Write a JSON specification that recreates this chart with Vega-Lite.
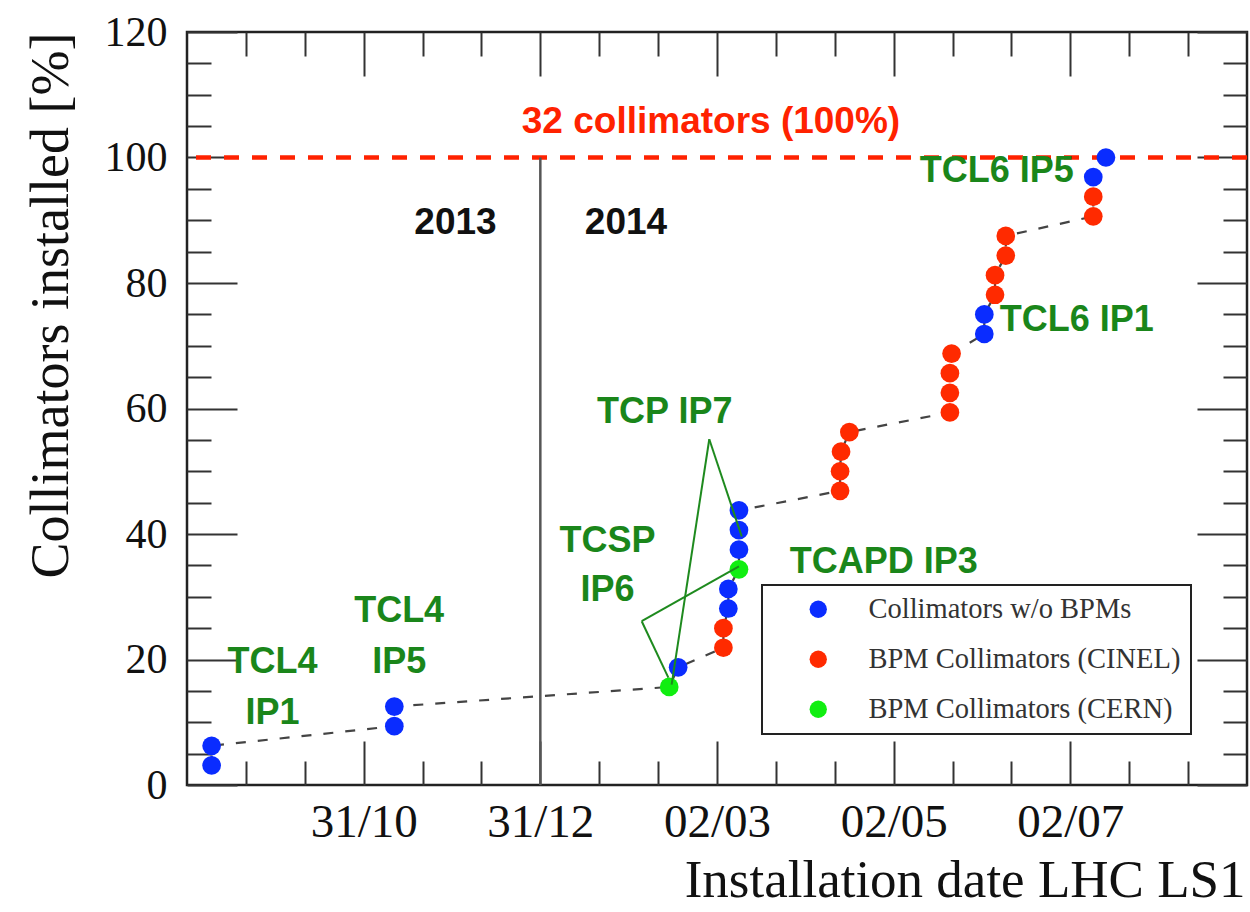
{
  "$schema": "https://vega.github.io/schema/vega-lite/v6.json",
  "width": 1060,
  "height": 753,
  "autosize": {"type": "none"},
  "padding": {"left": 187, "top": 32, "right": 3, "bottom": 127},
  "background": "white",
  "config": {
    "view": {"stroke": "#222", "strokeWidth": 2.5},
    "axis": {
      "grid": false, "domain": false, "tickColor": "#333", "tickWidth": 2,
      "labelFont": "Liberation Serif", "titleFont": "Liberation Serif",
      "labelColor": "#111", "titleColor": "#111", "titleFontWeight": "normal",
      "labelOverlap": false, "labelFlush": false
    },
    "legend": {"strokeWidth": 2}
  },
  "datasets": {
    "points": [
      {"k": 1, "date": "2013-09-08T12:00:00Z", "pct": 3.125, "type": "Collimators w/o BPMs"},
      {"k": 2, "date": "2013-09-08T12:00:00Z", "pct": 6.25, "type": "Collimators w/o BPMs"},
      {"k": 3, "date": "2013-11-10T14:00:00Z", "pct": 9.375, "type": "Collimators w/o BPMs"},
      {"k": 4, "date": "2013-11-10T14:00:00Z", "pct": 12.5, "type": "Collimators w/o BPMs"},
      {"k": 5, "date": "2014-02-13T12:00:00Z", "pct": 15.625, "type": "BPM Collimators (CERN)"},
      {"k": 6, "date": "2014-02-16T14:00:00Z", "pct": 18.75, "type": "Collimators w/o BPMs"},
      {"k": 7, "date": "2014-03-04T05:00:00Z", "pct": 21.875, "type": "BPM Collimators (CINEL)"},
      {"k": 8, "date": "2014-03-04T05:00:00Z", "pct": 25, "type": "BPM Collimators (CINEL)"},
      {"k": 9, "date": "2014-03-05T22:00:00Z", "pct": 28.125, "type": "Collimators w/o BPMs"},
      {"k": 10, "date": "2014-03-05T22:00:00Z", "pct": 31.25, "type": "Collimators w/o BPMs"},
      {"k": 11, "date": "2014-03-09T14:00:00Z", "pct": 34.375, "type": "BPM Collimators (CERN)"},
      {"k": 12, "date": "2014-03-09T14:00:00Z", "pct": 37.5, "type": "Collimators w/o BPMs"},
      {"k": 13, "date": "2014-03-09T14:00:00Z", "pct": 40.625, "type": "Collimators w/o BPMs"},
      {"k": 14, "date": "2014-03-09T14:00:00Z", "pct": 43.75, "type": "Collimators w/o BPMs"},
      {"k": 15, "date": "2014-04-13T12:00:00Z", "pct": 46.875, "type": "BPM Collimators (CINEL)"},
      {"k": 16, "date": "2014-04-13T12:00:00Z", "pct": 50, "type": "BPM Collimators (CINEL)"},
      {"k": 17, "date": "2014-04-13T20:00:00Z", "pct": 53.125, "type": "BPM Collimators (CINEL)"},
      {"k": 18, "date": "2014-04-16T17:00:00Z", "pct": 56.25, "type": "BPM Collimators (CINEL)"},
      {"k": 19, "date": "2014-05-21T10:00:00Z", "pct": 59.375, "type": "BPM Collimators (CINEL)"},
      {"k": 20, "date": "2014-05-21T10:00:00Z", "pct": 62.5, "type": "BPM Collimators (CINEL)"},
      {"k": 21, "date": "2014-05-21T10:00:00Z", "pct": 65.625, "type": "BPM Collimators (CINEL)"},
      {"k": 22, "date": "2014-05-22T00:00:00Z", "pct": 68.75, "type": "BPM Collimators (CINEL)"},
      {"k": 23, "date": "2014-06-02T07:00:00Z", "pct": 71.875, "type": "Collimators w/o BPMs"},
      {"k": 24, "date": "2014-06-02T07:00:00Z", "pct": 75, "type": "Collimators w/o BPMs"},
      {"k": 25, "date": "2014-06-06T00:00:00Z", "pct": 78.125, "type": "BPM Collimators (CINEL)"},
      {"k": 26, "date": "2014-06-06T00:00:00Z", "pct": 81.25, "type": "BPM Collimators (CINEL)"},
      {"k": 27, "date": "2014-06-09T17:00:00Z", "pct": 84.375, "type": "BPM Collimators (CINEL)"},
      {"k": 28, "date": "2014-06-09T17:00:00Z", "pct": 87.5, "type": "BPM Collimators (CINEL)"},
      {"k": 29, "date": "2014-07-09T22:00:00Z", "pct": 90.625, "type": "BPM Collimators (CINEL)"},
      {"k": 30, "date": "2014-07-09T22:00:00Z", "pct": 93.75, "type": "BPM Collimators (CINEL)"},
      {"k": 31, "date": "2014-07-09T22:00:00Z", "pct": 96.875, "type": "Collimators w/o BPMs"},
      {"k": 32, "date": "2014-07-14T07:00:00Z", "pct": 100, "type": "Collimators w/o BPMs"}
    ],
    "links": [
      {"label": "TCP IP7", "date": "2014-02-27T08:00:00Z", "pct": 55.1, "date2": "2014-02-14T08:00:00Z", "pct2": 16.0},
      {"label": "TCP IP7", "date": "2014-02-27T08:00:00Z", "pct": 55.1, "date2": "2014-03-10T13:00:00Z", "pct2": 39.6},
      {"label": "TCSP IP6", "date": "2014-02-04T00:00:00Z", "pct": 26.1, "date2": "2014-03-09T14:00:00Z", "pct2": 34.85},
      {"label": "TCSP IP6", "date": "2014-02-04T00:00:00Z", "pct": 26.1, "date2": "2014-02-13T05:00:00Z", "pct2": 17.1}
    ],
    "labels": [
      {"text": "TCL4", "date": "2013-09-29T12:00:00Z", "pct": 17.9},
      {"text": "IP1", "date": "2013-09-29T12:00:00Z", "pct": 9.8},
      {"text": "TCL4", "date": "2013-11-12T06:00:00Z", "pct": 26.0},
      {"text": "IP5", "date": "2013-11-12T06:00:00Z", "pct": 17.9},
      {"text": "TCSP", "date": "2014-01-23T05:00:00Z", "pct": 37.2},
      {"text": "IP6", "date": "2014-01-23T05:00:00Z", "pct": 29.3},
      {"text": "TCP IP7", "date": "2014-02-11T23:00:00Z", "pct": 57.7},
      {"text": "TCAPD IP3", "date": "2014-04-28T14:00:00Z", "pct": 33.8},
      {"text": "TCL6 IP5", "date": "2014-06-06T14:00:00Z", "pct": 96.1},
      {"text": "TCL6 IP1", "date": "2014-07-04T05:00:00Z", "pct": 72.3}
    ],
    "redtext": [
      {"text": "32 collimators (100%)", "date": "2014-02-27T22:00:00Z", "pct": 103.9}
    ],
    "years": [
      {"text": "2013", "date": "2013-12-01T17:00:00Z", "pct": 87.75},
      {"text": "2014", "date": "2014-01-29T14:00:00Z", "pct": 87.75}
    ],
    "full": [
      {"date": "2013-12-31", "pct": 0, "pct2": 100, "target": 100}
    ]
  },
  "layer": [
    {
      "data": {"name": "full"},
      "mark": {"type": "rule", "color": "#ff2200", "strokeWidth": 4.5, "strokeDash": [15, 13]},
      "encoding": {
        "y": {"field": "target", "type": "quantitative", "scale": {"domain": [0, 120], "nice": false, "zero": false}, "axis": null}
      }
    },
    {
      "data": {"name": "full"},
      "mark": {"type": "rule", "color": "#555", "strokeWidth": 2.5},
      "encoding": {
        "x": {"field": "date", "type": "temporal",
              "scale": {"type": "utc", "nice": false, "domain": [{"year": 2013, "month": 8, "date": 31, "utc": true}, {"year": 2014, "month": 9, "date": 1, "utc": true}]}, "axis": null},
        "y": {"field": "pct", "type": "quantitative", "axis": null},
        "y2": {"field": "pct2"}
      }
    },
    {
      "data": {"name": "points"},
      "mark": {"type": "line", "color": "#444", "strokeWidth": 2.2, "strokeDash": [10, 12]},
      "encoding": {
        "x": {"field": "date", "type": "temporal",
              "scale": {"type": "utc", "nice": false, "domain": [{"year": 2013, "month": 8, "date": 31, "utc": true}, {"year": 2014, "month": 9, "date": 1, "utc": true}]},
              "axis": {"orient": "bottom", "title": null, "labels": false, "tickSize": -24,
                       "values": [
                         {"year": 2013, "month": 9, "date": 20, "hours": 8, "utc": true},
                         {"year": 2013, "month": 10, "date": 10, "hours": 16, "utc": true},
                         {"year": 2013, "month": 11, "date": 20, "hours": 8, "utc": true},
                         {"year": 2013, "month": 12, "date": 10, "hours": 16, "utc": true},
                         {"year": 2014, "month": 1, "date": 20, "hours": 8, "utc": true},
                         {"year": 2014, "month": 2, "date": 9, "hours": 16, "utc": true},
                         {"year": 2014, "month": 3, "date": 22, "hours": 8, "utc": true},
                         {"year": 2014, "month": 4, "date": 11, "hours": 16, "utc": true},
                         {"year": 2014, "month": 5, "date": 22, "hours": 8, "utc": true},
                         {"year": 2014, "month": 6, "date": 11, "hours": 16, "utc": true},
                         {"year": 2014, "month": 7, "date": 22, "hours": 8, "utc": true},
                         {"year": 2014, "month": 8, "date": 11, "hours": 16, "utc": true}
                       ]}},
        "y": {"field": "pct", "type": "quantitative", "scale": {"domain": [0, 120], "nice": false, "zero": false},
              "axis": {"orient": "left", "title": null, "labels": false, "tickSize": -24,
                       "values": [5, 10, 15, 25, 30, 35, 45, 50, 55, 65, 70, 75, 85, 90, 95, 105, 110, 115]}},
        "order": {"field": "k", "type": "quantitative"}
      }
    },
    {
      "data": {"name": "points"},
      "mark": {"type": "point", "shape": "circle", "filled": true, "size": 350, "opacity": 1, "strokeWidth": 0},
      "encoding": {
        "x": {"field": "date", "type": "temporal",
              "scale": {"type": "utc", "nice": false, "domain": [{"year": 2013, "month": 8, "date": 31, "utc": true}, {"year": 2014, "month": 9, "date": 1, "utc": true}]},
              "axis": {"orient": "bottom", "tickSize": -44, "labelPadding": 95, "labelFontSize": 47, "labelBaseline": "alphabetic",
                       "labelExpr": "utcFormat(datum.value, '%d/%m')",
                       "values": [
                         {"year": 2013, "month": 10, "date": 31, "utc": true},
                         {"year": 2013, "month": 12, "date": 31, "utc": true},
                         {"year": 2014, "month": 3, "date": 2, "utc": true},
                         {"year": 2014, "month": 5, "date": 2, "utc": true},
                         {"year": 2014, "month": 7, "date": 2, "utc": true}
                       ],
                       "title": "Installation date LHC LS1", "titleFontSize": 53, "titleX": 1058, "titleY": 111,
                       "titleAlign": "right", "titleBaseline": "alphabetic", "titleAnchor": "end"}},
        "y": {"field": "pct", "type": "quantitative", "scale": {"domain": [0, 120], "nice": false, "zero": false},
              "axis": {"orient": "left", "tickSize": -50, "labelPadding": 70, "labelFontSize": 42, "labelAlign": "right", "labelBaseline": "middle",
                       "values": [0, 20, 40, 60, 80, 100, 120],
                       "title": "Collimators installed [%]", "titleFontSize": 54, "titleAngle": 270, "titleX": -120, "titleY": 0,
                       "titleAlign": "right", "titleBaseline": "alphabetic", "titleAnchor": "end"}},
        "color": {"field": "type", "type": "nominal",
                  "scale": {"domain": ["Collimators w/o BPMs", "BPM Collimators (CINEL)", "BPM Collimators (CERN)"], "range": ["#0a2cff", "#ff2a00", "#11ee11"]},
                  "legend": {"title": null, "orient": "none", "legendX": 575, "legendY": 553, "padding": 10, "rowPadding": 21,
                             "symbolType": "circle", "symbolSize": 300, "symbolOffset": 32, "labelOffset": 36, "symbolStrokeWidth": 0,
                             "labelFont": "Liberation Serif", "labelFontSize": 28.5, "labelColor": "#333", "labelLimit": 500,
                             "strokeColor": "#222", "fillColor": "white"}},
        "order": {"field": "k", "type": "quantitative"}
      }
    },
    {
      "data": {"name": "links"},
      "mark": {"type": "rule", "color": "#1e8a1e", "strokeWidth": 2},
      "encoding": {
        "x": {"field": "date", "type": "temporal",
              "scale": {"type": "utc", "nice": false, "domain": [{"year": 2013, "month": 8, "date": 31, "utc": true}, {"year": 2014, "month": 9, "date": 1, "utc": true}]},
              "axis": {"orient": "top", "title": null, "labels": false, "tickSize": -44,
                       "values": [
                         {"year": 2013, "month": 10, "date": 31, "utc": true},
                         {"year": 2013, "month": 12, "date": 31, "utc": true},
                         {"year": 2014, "month": 3, "date": 2, "utc": true},
                         {"year": 2014, "month": 5, "date": 2, "utc": true},
                         {"year": 2014, "month": 7, "date": 2, "utc": true}
                       ]}},
        "x2": {"field": "date2"},
        "y": {"field": "pct", "type": "quantitative", "scale": {"domain": [0, 120], "nice": false, "zero": false},
              "axis": {"orient": "right", "title": null, "labels": false, "tickSize": -50, "values": [0, 20, 40, 60, 80, 100, 120]}},
        "y2": {"field": "pct2"}
      }
    },
    {
      "data": {"name": "labels"},
      "mark": {"type": "text", "font": "Liberation Sans", "fontWeight": "bold", "fontSize": 36, "color": "#1a861a", "align": "center", "baseline": "alphabetic"},
      "encoding": {
        "x": {"field": "date", "type": "temporal",
              "scale": {"type": "utc", "nice": false, "domain": [{"year": 2013, "month": 8, "date": 31, "utc": true}, {"year": 2014, "month": 9, "date": 1, "utc": true}]},
              "axis": {"orient": "top", "title": null, "labels": false, "tickSize": -24,
                       "values": [
                         {"year": 2013, "month": 9, "date": 20, "hours": 8, "utc": true},
                         {"year": 2013, "month": 10, "date": 10, "hours": 16, "utc": true},
                         {"year": 2013, "month": 11, "date": 20, "hours": 8, "utc": true},
                         {"year": 2013, "month": 12, "date": 10, "hours": 16, "utc": true},
                         {"year": 2014, "month": 1, "date": 20, "hours": 8, "utc": true},
                         {"year": 2014, "month": 2, "date": 9, "hours": 16, "utc": true},
                         {"year": 2014, "month": 3, "date": 22, "hours": 8, "utc": true},
                         {"year": 2014, "month": 4, "date": 11, "hours": 16, "utc": true},
                         {"year": 2014, "month": 5, "date": 22, "hours": 8, "utc": true},
                         {"year": 2014, "month": 6, "date": 11, "hours": 16, "utc": true},
                         {"year": 2014, "month": 7, "date": 22, "hours": 8, "utc": true},
                         {"year": 2014, "month": 8, "date": 11, "hours": 16, "utc": true}
                       ]}},
        "y": {"field": "pct", "type": "quantitative", "scale": {"domain": [0, 120], "nice": false, "zero": false},
              "axis": {"orient": "right", "title": null, "labels": false, "tickSize": -24,
                       "values": [5, 10, 15, 25, 30, 35, 45, 50, 55, 65, 70, 75, 85, 90, 95, 105, 110, 115]}},
        "text": {"field": "text"}
      }
    },
    {
      "data": {"name": "redtext"},
      "mark": {"type": "text", "font": "Liberation Sans", "fontWeight": "bold", "fontSize": 37, "color": "#ff2200", "align": "center", "baseline": "alphabetic"},
      "encoding": {
        "x": {"field": "date", "type": "temporal",
              "scale": {"type": "utc", "nice": false, "domain": [{"year": 2013, "month": 8, "date": 31, "utc": true}, {"year": 2014, "month": 9, "date": 1, "utc": true}]}, "axis": null},
        "y": {"field": "pct", "type": "quantitative", "scale": {"domain": [0, 120], "nice": false, "zero": false}, "axis": null},
        "text": {"field": "text"}
      }
    },
    {
      "data": {"name": "years"},
      "mark": {"type": "text", "font": "Liberation Sans", "fontWeight": "bold", "fontSize": 37, "color": "#111", "align": "center", "baseline": "alphabetic"},
      "encoding": {
        "x": {"field": "date", "type": "temporal",
              "scale": {"type": "utc", "nice": false, "domain": [{"year": 2013, "month": 8, "date": 31, "utc": true}, {"year": 2014, "month": 9, "date": 1, "utc": true}]}, "axis": null},
        "y": {"field": "pct", "type": "quantitative", "scale": {"domain": [0, 120], "nice": false, "zero": false}, "axis": null},
        "text": {"field": "text"}
      }
    }
  ],
  "resolve": {"axis": {"x": "independent", "y": "independent"}}
}
